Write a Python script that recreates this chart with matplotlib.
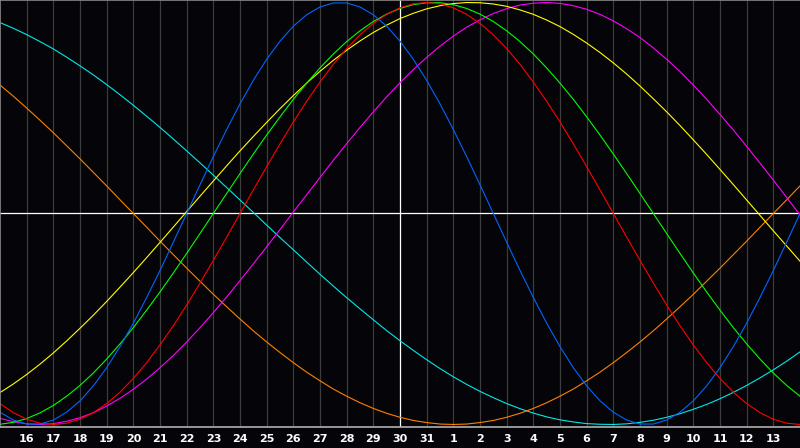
import matplotlib
matplotlib.use("Agg")
import matplotlib.pyplot as plt
import numpy as np

# day labels under each grid line (positions 1..29 on a 0..30 axis)
day_labels = [str(d) for d in range(16, 32)] + [str(d) for d in range(1, 14)]

# curve values (percent) read every half day, positions 0..30
cyan = [90.5, 87.8, 84.8, 81.5, 78.0, 74.1, 70.0, 65.7, 61.1, 56.3,
        51.3, 46.1, 40.8, 35.3, 29.7, 24.0, 18.2, 12.3, 6.4, 0.5,
        -5.5, -11.4, -17.2, -23.0, -28.8, -34.4, -39.9, -45.2, -50.4, -55.5,
        -60.3, -64.9, -69.3, -73.5, -77.4, -81.0, -84.3, -87.3, -90.1, -92.5,
        -94.6, -96.4, -97.8, -98.8, -99.6, -99.9, -100.0, -99.7, -99.0, -98.0,
        -96.6, -94.9, -92.8, -90.5, -87.8, -84.8, -81.5, -77.9, -74.1, -70.0,
        -65.6]
orange = [60.9, 55.6, 50.0, 44.2, 38.3, 32.1, 25.9, 19.5, 13.1, 6.5,
          0.0, -6.5, -13.1, -19.5, -25.9, -32.1, -38.3, -44.2, -50.0, -55.6,
          -60.9, -65.9, -70.7, -75.2, -79.3, -83.2, -86.6, -89.7, -92.4, -94.7,
          -96.6, -98.1, -99.1, -99.8, -100.0, -99.8, -99.1, -98.1, -96.6, -94.7,
          -92.4, -89.7, -86.6, -83.2, -79.3, -75.2, -70.7, -65.9, -60.9, -55.6,
          -50.0, -44.2, -38.3, -32.1, -25.9, -19.5, -13.1, -6.5, 0.0, 6.5,
          13.1]
blue = [-94.2, -97.9, -99.8, -99.8, -97.9, -94.2, -88.8, -81.7, -73.1, -63.1,
        -52.0, -39.8, -27.0, -13.6, 0.0, 13.6, 27.0, 39.8, 52.0, 63.1,
        73.1, 81.7, 88.8, 94.2, 97.9, 99.8, 99.8, 97.9, 94.2, 88.8,
        81.7, 73.1, 63.1, 52.0, 39.8, 27.0, 13.6, 0.0, -13.6, -27.0,
        -39.8, -52.0, -63.1, -73.1, -81.7, -88.8, -94.2, -97.9, -99.8, -99.8,
        -97.9, -94.2, -88.8, -81.7, -73.1, -63.1, -52.0, -39.8, -27.0, -13.6,
        0.0]
red = [-90.1, -94.4, -97.5, -99.4, -100.0, -99.4, -97.5, -94.4, -90.1, -84.7,
       -78.2, -70.7, -62.3, -53.2, -43.4, -33.0, -22.2, -11.2, 0.0, 11.2,
       22.2, 33.0, 43.4, 53.2, 62.3, 70.7, 78.2, 84.7, 90.1, 94.4,
       97.5, 99.4, 100.0, 99.4, 97.5, 94.4, 90.1, 84.7, 78.2, 70.7,
       62.3, 53.2, 43.4, 33.0, 22.2, 11.2, 0.0, -11.2, -22.2, -33.0,
       -43.4, -53.2, -62.3, -70.7, -78.2, -84.7, -90.1, -94.4, -97.5, -99.4,
       -100.0]
green = [-99.9, -99.0, -97.2, -94.5, -91.0, -86.6, -81.5, -75.6, -69.0, -61.8,
         -54.1, -45.8, -37.2, -28.2, -18.9, -9.5, 0.0, 9.5, 18.9, 28.2,
         37.2, 45.8, 54.1, 61.8, 69.0, 75.6, 81.5, 86.6, 91.0, 94.5,
         97.2, 99.0, 99.9, 99.9, 99.0, 97.2, 94.5, 91.0, 86.6, 81.5,
         75.6, 69.0, 61.8, 54.1, 45.8, 37.2, 28.2, 18.9, 9.5, 0.0,
         -9.5, -18.9, -28.2, -37.2, -45.8, -54.1, -61.8, -69.0, -75.6, -81.5,
         -86.6]
yellow = [-84.9, -80.8, -76.3, -71.4, -66.1, -60.4, -54.4, -48.2, -41.7, -34.9,
          -28.0, -20.9, -13.7, -6.4, 0.9, 8.2, 15.4, 22.6, 29.7, 36.5,
          43.2, 49.7, 55.9, 61.8, 67.4, 72.6, 77.4, 81.8, 85.8, 89.3,
          92.4, 94.9, 97.0, 98.5, 99.5, 100.0, 99.9, 99.3, 98.2, 96.5,
          94.4, 91.7, 88.6, 84.9, 80.8, 76.3, 71.4, 66.1, 60.4, 54.4,
          48.2, 41.7, 34.9, 28.0, 20.9, 13.7, 6.4, -0.9, -8.2, -15.4,
          -22.6]
magenta = [-97.1, -98.7, -99.7, -100.0, -99.6, -98.5, -96.8, -94.4, -91.3, -87.6,
           -83.3, -78.5, -73.1, -67.3, -60.9, -54.1, -47.0, -39.6, -31.8, -23.9,
           -15.8, -7.6, 0.7, 8.9, 17.1, 25.2, 33.1, 40.8, 48.2, 55.3,
           62.0, 68.2, 74.0, 79.3, 84.1, 88.3, 91.8, 94.8, 97.1, 98.8,
           99.7, 100.0, 99.6, 98.5, 96.8, 94.4, 91.3, 87.6, 83.4, 78.5,
           73.1, 67.3, 60.9, 54.1, 47.0, 39.6, 31.8, 23.9, 15.8, 7.6,
           -0.7]

series = [
    (cyan, "#00e8e8"),
    (orange, "#ff8000"),
    (magenta, "#ff00ff"),
    (yellow, "#ffff00"),
    (green, "#00ff00"),
    (red, "#ff0000"),
    (blue, "#0066ff"),
]

bg = "#050408"
fig = plt.figure(figsize=(8, 4.48), dpi=100, facecolor=bg)
ax = fig.add_axes([0, 21 / 448, 1, 427 / 448])
ax.set_facecolor(bg)

for k in range(1, 30):
    ax.axvline(k, color="#ffffff" if k == 15 else "#3c3c3c", lw=0.9, zorder=1)
ax.axhline(0, color="#ffffff", lw=0.9, zorder=1)

for vals, col in series:
    x = np.arange(len(vals)) / 2
    ax.plot(x, vals, color=col, lw=0.8, zorder=2)

ax.set_xlim(0, 30)
ax.set_ylim(-101.2, 101.2)
ax.set_yticks([])
ax.set_xticks(range(1, 30))
ax.set_xticklabels(day_labels, color="white", fontsize=8, fontweight="bold",
                   family="DejaVu Sans")
ax.tick_params(axis="x", length=0, pad=5)

for side in ("top", "left"):
    ax.spines[side].set_color("#8a8a8a")
    ax.spines[side].set_linewidth(1.2)
ax.spines["bottom"].set_color("#b0b0b0")
ax.spines["bottom"].set_linewidth(1.2)
ax.spines["right"].set_visible(False)

fig.savefig("out.png", dpi=100, facecolor=bg)
